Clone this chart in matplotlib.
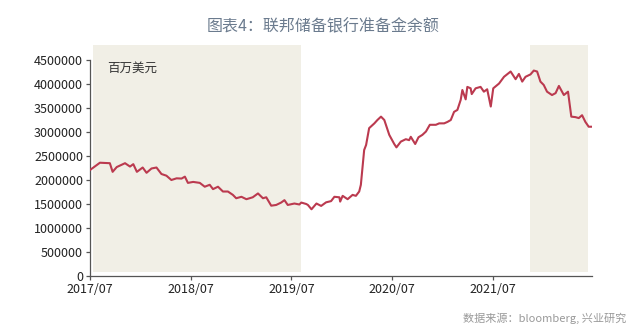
import matplotlib
matplotlib.use('Agg')
import matplotlib.pyplot as plt
import pandas as pd

plt.rcParams['font.family'] = ['Noto Sans CJK SC', 'DejaVu Sans']

# weekly-ish reserve balances, million USD
dates = ['2017-07-01', '2017-08-06', '2017-09-11', '2017-09-21', '2017-10-06', '2017-11-05',
         '2017-11-23', '2017-12-05', '2017-12-18', '2018-01-08', '2018-01-22', '2018-02-09',
         '2018-02-27', '2018-03-17', '2018-04-04', '2018-04-22', '2018-05-11', '2018-05-29',
         '2018-06-10', '2018-06-21', '2018-07-10', '2018-08-03', '2018-08-21', '2018-09-08',
         '2018-09-20', '2018-10-08', '2018-10-26', '2018-11-13', '2018-12-01', '2018-12-13',
         '2019-01-01', '2019-01-19', '2019-02-11', '2019-03-02', '2019-03-20', '2019-04-01',
         '2019-04-19', '2019-05-07', '2019-05-25', '2019-06-06', '2019-06-18', '2019-07-12',
         '2019-07-30', '2019-08-06', '2019-08-24', '2019-08-30', '2019-09-12', '2019-09-30',
         '2019-10-17', '2019-11-04', '2019-11-22', '2019-12-04', '2019-12-22', '2019-12-25',
         '2020-01-03', '2020-01-21', '2020-02-08', '2020-02-20', '2020-03-03', '2020-03-09',
         '2020-03-21', '2020-03-28', '2020-04-08', '2020-04-27', '2020-05-08', '2020-05-21',
         '2020-06-02', '2020-06-20', '2020-07-08', '2020-07-16', '2020-08-01', '2020-08-19',
         '2020-08-31', '2020-09-06', '2020-09-22', '2020-10-04', '2020-10-18', '2020-10-31',
         '2020-11-14', '2020-12-06', '2020-12-18', '2021-01-05', '2021-01-17', '2021-01-29',
         '2021-02-10', '2021-02-22', '2021-03-06', '2021-03-12', '2021-03-24', '2021-03-30',
         '2021-04-11', '2021-04-15', '2021-04-29', '2021-05-17', '2021-05-29', '2021-06-10',
         '2021-06-23', '2021-07-02', '2021-07-23', '2021-08-10', '2021-09-03', '2021-09-21',
         '2021-10-03', '2021-10-15', '2021-10-27', '2021-11-14', '2021-11-26', '2021-12-08',
         '2021-12-20', '2022-01-01', '2022-01-13', '2022-01-31', '2022-02-13', '2022-02-25',
         '2022-03-15', '2022-03-30', '2022-04-11', '2022-04-26', '2022-05-08', '2022-05-20',
         '2022-06-01', '2022-06-13', '2022-06-23']
reserves = [2208000, 2360000, 2350000, 2170000, 2270000, 2350000,
            2280000, 2330000, 2170000, 2260000, 2150000, 2240000,
            2260000, 2125000, 2090000, 2000000, 2035000, 2030000,
            2070000, 1940000, 1960000, 1940000, 1860000, 1900000,
            1810000, 1860000, 1760000, 1760000, 1690000, 1620000,
            1650000, 1600000, 1640000, 1720000, 1620000, 1640000,
            1465000, 1480000, 1530000, 1580000, 1480000, 1510000,
            1490000, 1530000, 1500000, 1480000, 1390000, 1510000,
            1460000, 1535000, 1560000, 1650000, 1640000, 1550000,
            1670000, 1600000, 1690000, 1670000, 1760000, 1900000,
            2625000, 2730000, 3080000, 3180000, 3250000, 3320000,
            3250000, 2940000, 2750000, 2680000, 2800000, 2850000,
            2830000, 2900000, 2750000, 2890000, 2940000, 3010000,
            3150000, 3150000, 3180000, 3180000, 3210000, 3250000,
            3420000, 3460000, 3670000, 3875000, 3680000, 3940000,
            3910000, 3790000, 3910000, 3940000, 3840000, 3890000,
            3530000, 3910000, 4010000, 4150000, 4260000, 4100000,
            4210000, 4050000, 4150000, 4200000, 4280000, 4260000,
            4050000, 3980000, 3840000, 3770000, 3810000, 3960000,
            3770000, 3840000, 3320000, 3310000, 3290000, 3350000,
            3210000, 3110000, 3110000]

shade_periods = [('2017-07-12', '2019-08-06'), ('2021-11-14', '2022-06-10')]
xtick_labels = ['2017/07', '2018/07', '2019/07', '2020/07', '2021/07']
yticks = [0, 500000, 1000000, 1500000, 2000000, 2500000, 3000000, 3500000, 4000000, 4500000]

x = pd.to_datetime(dates)

fig = plt.figure(figsize=(6.4, 3.36), dpi=100)
ax = fig.add_axes([90 / 640, 60 / 336, 502 / 640, 216 / 336])

for s, e in shade_periods:
    ax.axvspan(pd.Timestamp(s), pd.Timestamp(e), ymin=0.0185, ymax=1.069,
               color='#f1efe6', lw=0, clip_on=False, zorder=0)

ax.plot(x, reserves, color='#bb3a4f', lw=1.5, zorder=3)

ax.set_xlim(pd.Timestamp('2017-07-01'), pd.Timestamp('2022-06-25'))
ax.set_ylim(0, 4500000)
ax.set_yticks(yticks)
ax.set_yticklabels([str(v) for v in yticks])
ax.set_xticks(pd.to_datetime([l.replace('/', '-') + '-01' for l in xtick_labels]))
ax.set_xticklabels(xtick_labels)

for side in ['top', 'right']:
    ax.spines[side].set_visible(False)
for side in ['left', 'bottom']:
    ax.spines[side].set_color('#555555')
    ax.spines[side].set_linewidth(0.9)
ax.tick_params(axis='both', direction='out', length=3, width=0.9, color='#555555',
               labelsize=9, labelcolor='#222222', pad=2)

# positions below are measured from the top of the picture, flipped afterwards
ax.text(107 / 640, 68 / 336, '百万美元', transform=fig.transFigure, fontsize=9,
        color='#333333', va='center', ha='left')
fig.text(0.505, 27 / 336, '图表4：联邦储备银行准备金余额', ha='center', va='center',
         fontsize=11.5, color='#6b7b8e')
fig.text(626 / 640, 318 / 336, '数据来源：bloomberg, 兴业研究', ha='right', va='center',
         fontsize=8, color='#999999')

for t in fig.texts + ax.texts:
    px, py = t.get_position()
    t.set_position((px, 1 - py))

fig.savefig('out.png', dpi=100)
